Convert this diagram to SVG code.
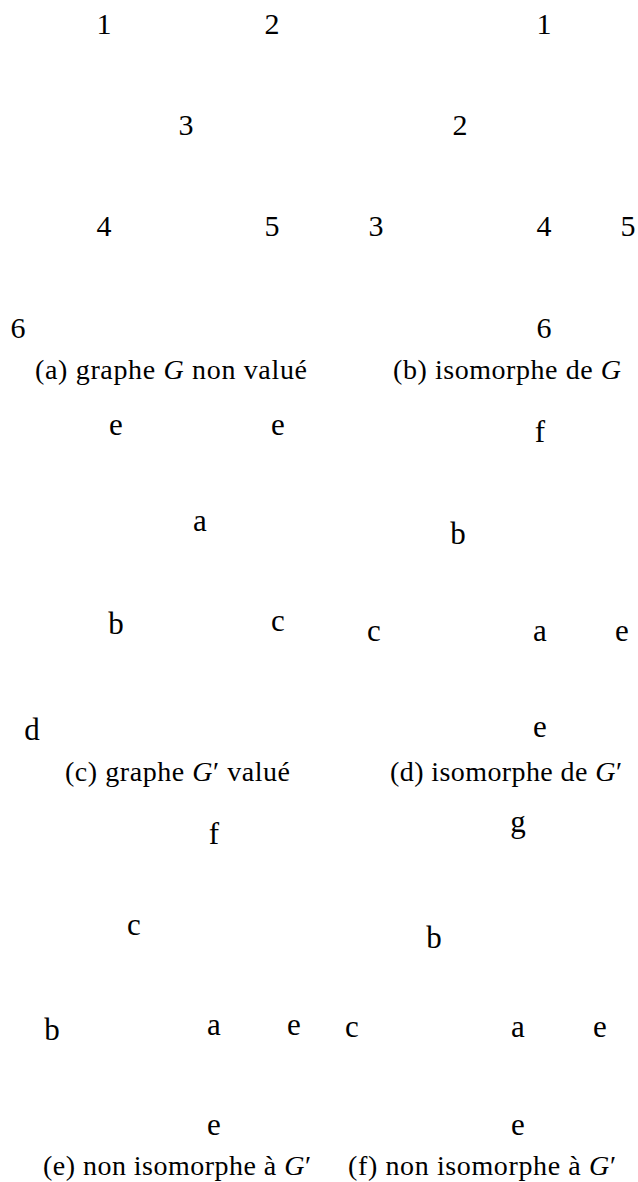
<svg xmlns="http://www.w3.org/2000/svg" width="638" height="1182" viewBox="0 0 638 1182">
<style>
text{font-family:"Liberation Serif","DejaVu Serif",serif;font-size:30px;fill:#000;text-anchor:middle}
.l{font-size:31px}
.cap{font-size:28px;text-anchor:start}
.i{font-style:italic}
</style>
<rect width="638" height="1182" fill="#fff"/>
<g id="connectors"></g>
<g id="graph-a">
<g id="a1"><text x="104" y="34">1</text></g>
<g id="a2"><text x="272" y="34">2</text></g>
<g id="a3"><text x="186" y="135">3</text></g>
<g id="a4"><text x="104" y="236">4</text></g>
<g id="a5"><text x="272" y="236">5</text></g>
<g id="a6"><text x="18" y="338">6</text></g>
<g id="cap-a"><text class="cap" x="35" y="379" textLength="272">(a) graphe <tspan class="i">G</tspan> non valué</text></g>
</g>
<g id="graph-b">
<g id="b1"><text x="544" y="34">1</text></g>
<g id="b2"><text x="460" y="135">2</text></g>
<g id="b3"><text x="376" y="236">3</text></g>
<g id="b4"><text x="544" y="236">4</text></g>
<g id="b5"><text x="628" y="236">5</text></g>
<g id="b6"><text x="544" y="338">6</text></g>
<g id="cap-b"><text class="cap" x="393" y="379" textLength="228">(b) isomorphe de <tspan class="i">G</tspan></text></g>
</g>
<g id="graph-c">
<g id="c-e1"><text class="l" x="116" y="435">e</text></g>
<g id="c-e2"><text class="l" x="278" y="435">e</text></g>
<g id="c-a"><text class="l" x="200" y="531">a</text></g>
<g id="c-b"><text class="l" x="116" y="634">b</text></g>
<g id="c-c"><text class="l" x="278" y="631">c</text></g>
<g id="c-d"><text class="l" x="32" y="740">d</text></g>
<g id="cap-c"><text class="cap" x="65" y="781" textLength="225">(c) graphe <tspan class="i">G</tspan>′ valué</text></g>
</g>
<g id="graph-d">
<g id="d-f"><text class="l" x="540" y="442">f</text></g>
<g id="d-b"><text class="l" x="458" y="544">b</text></g>
<g id="d-c"><text class="l" x="374" y="641">c</text></g>
<g id="d-a"><text class="l" x="540" y="641">a</text></g>
<g id="d-e1"><text class="l" x="622" y="641">e</text></g>
<g id="d-e2"><text class="l" x="540" y="737">e</text></g>
<g id="cap-d"><text class="cap" x="390" y="781" textLength="232">(d) isomorphe de <tspan class="i">G</tspan>′</text></g>
</g>
<g id="graph-e">
<g id="e-f"><text class="l" x="214" y="844">f</text></g>
<g id="e-c"><text class="l" x="134" y="935">c</text></g>
<g id="e-b"><text class="l" x="52" y="1040">b</text></g>
<g id="e-a"><text class="l" x="214" y="1035">a</text></g>
<g id="e-e1"><text class="l" x="294" y="1035">e</text></g>
<g id="e-e2"><text class="l" x="214" y="1135">e</text></g>
<g id="cap-e"><text class="cap" x="43" y="1175" textLength="268">(e) non isomorphe à <tspan class="i">G</tspan>′</text></g>
</g>
<g id="graph-f">
<g id="f-g"><text class="l" x="518" y="832">g</text></g>
<g id="f-b"><text class="l" x="434" y="948">b</text></g>
<g id="f-c"><text class="l" x="352" y="1037">c</text></g>
<g id="f-a"><text class="l" x="518" y="1037">a</text></g>
<g id="f-e1"><text class="l" x="600" y="1037">e</text></g>
<g id="f-e2"><text class="l" x="518" y="1135">e</text></g>
<g id="cap-f"><text class="cap" x="348" y="1175" textLength="268">(f) non isomorphe à <tspan class="i">G</tspan>′</text></g>
</g>
</svg>
